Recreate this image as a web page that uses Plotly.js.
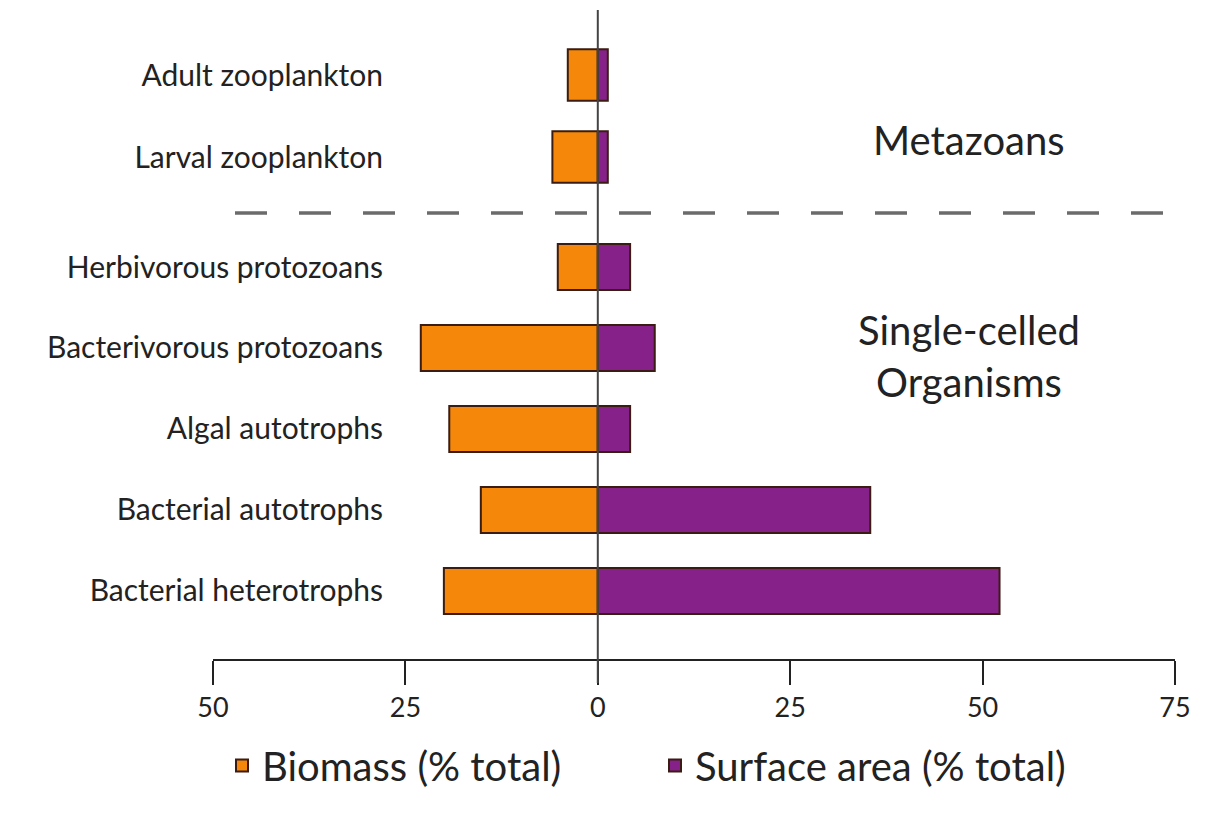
<!DOCTYPE html>
<html>
<head>
<meta charset="utf-8">
<script src="https://cdn.plot.ly/plotly-3.0.1.min.js"></script>
<style>html,body{margin:0;padding:0;background:#fff;}#chart{width:1217px;height:815px;}</style>
</head>
<body>
<div id="chart"></div>
<script>
// Metazoans (top group), listed top to bottom
const metaCategories = ["Adult zooplankton", "Larval zooplankton"];
const metaBiomass = [3.9, 5.9];
const metaSurface = [1.3, 1.3];

// Single-celled organisms (bottom group), listed top to bottom
const cellCategories = ["Herbivorous protozoans", "Bacterivorous protozoans", "Algal autotrophs", "Bacterial autotrophs", "Bacterial heterotrophs"];
const cellBiomass = [5.2, 23.0, 19.3, 15.2, 20.0];
const cellSurface = [4.2, 7.4, 4.2, 35.4, 52.2];

const tickValues = [-50, -25, 0, 25, 50, 75];
const tickLabels = ["50", "25", "0", "25", "50", "75"];

const seriesNames = ["Biomass (% total)", "Surface area (% total)"];
const orange = "#F5870A";
const purple = "#86218A";
const edge = "#3b1c12";
const neg = a => a.map(v => -v);

const W = 1217, H = 815;
const px = v => v / W;
const py = v => 1 - v / H;

const traces = [
  {type: "bar", orientation: "h", name: seriesNames[0], x: neg(cellBiomass), y: cellCategories,
   xaxis: "x", yaxis: "y", marker: {color: orange, line: {color: edge, width: 2}}, width: 0.57},
  {type: "bar", orientation: "h", name: seriesNames[1], x: cellSurface, y: cellCategories,
   xaxis: "x", yaxis: "y", marker: {color: purple, line: {color: edge, width: 2}}, width: 0.57},
  {type: "bar", orientation: "h", name: seriesNames[0], x: neg(metaBiomass), y: metaCategories, showlegend: false,
   xaxis: "x", yaxis: "y2", marker: {color: orange, line: {color: edge, width: 2}}, width: 0.63},
  {type: "bar", orientation: "h", name: seriesNames[1], x: metaSurface, y: metaCategories, showlegend: false,
   xaxis: "x", yaxis: "y2", marker: {color: purple, line: {color: edge, width: 2}}, width: 0.63}
];

const font = "Lato, 'Open Sans', sans-serif";

const layout = {
  width: W, height: H,
  margin: {l: 0, r: 0, t: 0, b: 0},
  paper_bgcolor: "#fff", plot_bgcolor: "rgba(0,0,0,0)",
  barmode: "relative",
  font: {family: font, color: "#222", size: 24},
  xaxis: {
    domain: [px(213), px(1175)], range: [-50, 75], anchor: "y",
    tickvals: tickValues, ticktext: tickLabels,
    showgrid: false, zeroline: false, showline: true, linecolor: "#222", linewidth: 2,
    ticks: "outside", ticklen: 24, tickwidth: 2, tickcolor: "#222",
    tickfont: {size: 27, color: "#222", family: font}
  },
  yaxis: {
    domain: [py(659), py(226.5)], type: "category", categoryorder: "array", categoryarray: cellCategories,
    range: [4.84, -0.5], anchor: "free", position: px(383),
    showgrid: false, zeroline: false, showline: false, ticks: "",
    tickfont: {size: 30, color: "#222", family: font}
  },
  yaxis2: {
    domain: [py(198), py(34)], type: "category", categoryorder: "array", categoryarray: metaCategories,
    range: [1.5, -0.5], anchor: "free", position: px(383),
    showgrid: false, zeroline: false, showline: false, ticks: "",
    tickfont: {size: 30, color: "#222", family: font}
  },
  shapes: [
    {type: "line", xref: "x", yref: "paper", x0: 0, x1: 0, y0: py(683), y1: py(10),
     line: {color: "#444", width: 2}},
    {type: "line", xref: "paper", yref: "paper", x0: px(235), x1: px(1172), y0: py(213), y1: py(213),
     line: {color: "#6b6b6b", width: 3.5, dash: "32px,32px"}}
  ],
  annotations: [
    {text: "Metazoans", xref: "paper", yref: "paper", x: px(969), y: py(140), showarrow: false,
     font: {size: 40, color: "#222", family: font}, xanchor: "center", yanchor: "middle"},
    {text: "Single-celled<br>Organisms", xref: "paper", yref: "paper", x: px(969), y: py(356), showarrow: false,
     font: {size: 40, color: "#222", family: font}, xanchor: "center", yanchor: "middle"}
  ],
  legend: {
    orientation: "h", x: px(222), y: py(733), xanchor: "left", yanchor: "top",
    font: {size: 40, color: "#222", family: font}, itemwidth: 30, entrywidth: 388, entrywidthmode: "pixels",
    tracegroupgap: 0, bgcolor: "rgba(0,0,0,0)"
  },
  showlegend: true
};

Plotly.newPlot("chart", traces, layout, {displayModeBar: false, staticPlot: true});
</script>
</body>
</html>
